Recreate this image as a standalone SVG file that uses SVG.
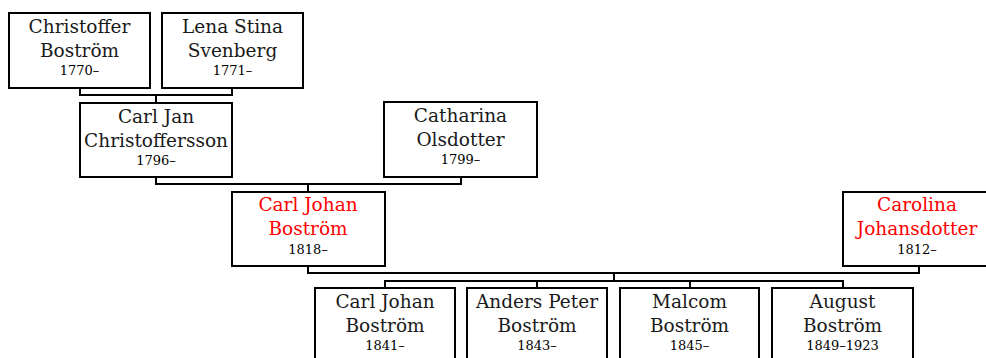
<svg xmlns="http://www.w3.org/2000/svg" width="986" height="358" viewBox="0 0 986 358">
<style>
.box{fill:#fff;stroke:#000;stroke-width:2}
.n{font-family:"DejaVu Serif","Liberation Serif",serif;font-size:18.5px;fill:#1a1a1a;text-anchor:middle}
.r{fill:#ff0000}
.y{font-family:"DejaVu Serif","Liberation Serif",serif;font-size:13px;fill:#000;text-anchor:middle}
.c{fill:none;stroke:#000;stroke-width:2}
</style>
<rect width="986" height="358" fill="#fff"/>
<g id="connectors">
<polyline class="c" points="80,88 80,95 232,95 232,88"/>
<line class="c" x1="156" y1="95" x2="156" y2="103"/>
<polyline class="c" points="156,177 156,184 461,184 461,177"/>
<line class="c" x1="308" y1="184" x2="308" y2="192"/>
<polyline class="c" points="308,266 308,273 919,273 919,266"/>
<line class="c" x1="614" y1="273" x2="614" y2="281"/>
<line class="c" x1="384" y1="281" x2="844" y2="281"/>
<line class="c" x1="385" y1="281" x2="385" y2="288"/>
<line class="c" x1="537" y1="281" x2="537" y2="288"/>
<line class="c" x1="690" y1="281" x2="690" y2="288"/>
<line class="c" x1="843" y1="281" x2="843" y2="288"/>
</g>
<g id="christoffer">
<rect class="box" x="9" y="13" width="141" height="75"/>
<text class="n" x="79.5" y="33">Christoffer</text>
<text class="n" x="79.5" y="57">Boström</text>
<text class="y" x="79.5" y="75">1770–</text>
</g>
<g id="lena">
<rect class="box" x="162" y="13" width="141" height="75"/>
<text class="n" x="232.5" y="33">Lena Stina</text>
<text class="n" x="232.5" y="57">Svenberg</text>
<text class="y" x="232.5" y="75">1771–</text>
</g>
<g id="carljan">
<rect class="box" x="80" y="103" width="152" height="74"/>
<text class="n" x="156" y="123">Carl Jan</text>
<text class="n" x="156" y="147">Christoffersson</text>
<text class="y" x="156" y="165">1796–</text>
</g>
<g id="catharina">
<rect class="box" x="384" y="102" width="153" height="75"/>
<text class="n" x="460.5" y="122">Catharina</text>
<text class="n" x="460.5" y="146">Olsdotter</text>
<text class="y" x="460.5" y="164">1799–</text>
</g>
<g id="carljohan">
<rect class="box" x="232" y="192" width="153" height="74"/>
<text class="n r" x="308" y="211">Carl Johan</text>
<text class="n r" x="308" y="235">Boström</text>
<text class="y" x="308" y="254">1818–</text>
</g>
<g id="carolina">
<rect class="box" x="843" y="192" width="152" height="74"/>
<text class="n r" x="917" y="211">Carolina</text>
<text class="n r" x="917" y="235">Johansdotter</text>
<text class="y" x="917" y="254">1812–</text>
</g>
<g id="child1">
<rect class="box" x="315" y="288" width="140" height="75"/>
<text class="n" x="385" y="308">Carl Johan</text>
<text class="n" x="385" y="332">Boström</text>
<text class="y" x="385" y="350">1841–</text>
</g>
<g id="child2">
<rect class="box" x="467" y="288" width="140" height="75"/>
<text class="n" x="537" y="308">Anders Peter</text>
<text class="n" x="537" y="332">Boström</text>
<text class="y" x="537" y="350">1843–</text>
</g>
<g id="child3">
<rect class="box" x="620" y="288" width="139" height="75"/>
<text class="n" x="689.5" y="308">Malcom</text>
<text class="n" x="689.5" y="332">Boström</text>
<text class="y" x="689.5" y="350">1845–</text>
</g>
<g id="child4">
<rect class="box" x="772" y="288" width="141" height="75"/>
<text class="n" x="842.5" y="308">August</text>
<text class="n" x="842.5" y="332">Boström</text>
<text class="y" x="842.5" y="350">1849–1923</text>
</g>
</svg>
